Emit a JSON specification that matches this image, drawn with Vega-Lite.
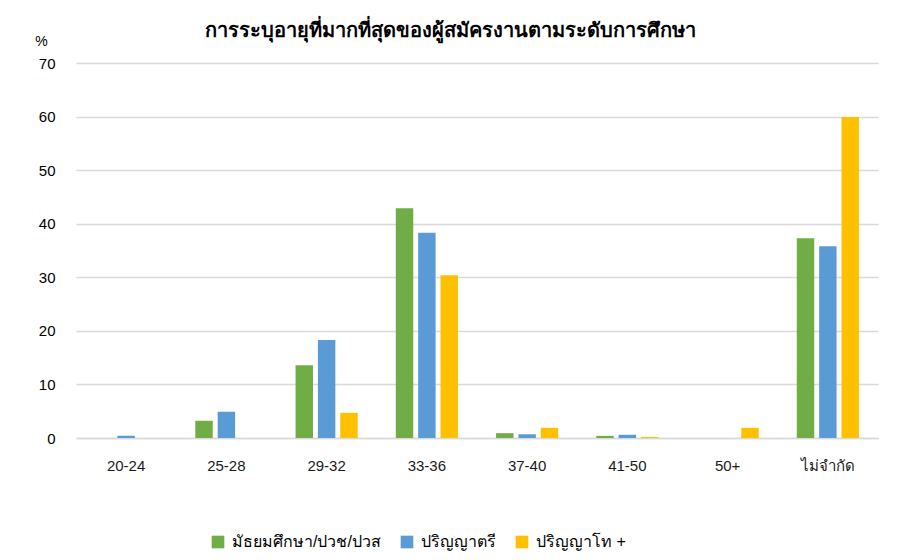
{
  "$schema": "https://vega.github.io/schema/vega-lite/v6.json",
  "autosize": {"type": "none"},
  "padding": {"left": 76, "top": 63, "right": 22, "bottom": 122},
  "width": 802,
  "height": 375,
  "background": "white",
  "title": {
    "text": "การระบุอายุที่มากที่สุดของผู้สมัครงานตามระดับการศึกษา",
    "fontSize": 20,
    "fontWeight": "bold",
    "color": "#000000",
    "anchor": "middle",
    "dx": -27,
    "offset": -7
  },
  "data": {
    "values": [
      {"age": "20-24", "edu": "มัธยมศึกษา/ปวช/ปวส", "pct": 0},
      {"age": "20-24", "edu": "ปริญญาตรี", "pct": 0.4},
      {"age": "20-24", "edu": "ปริญญาโท +", "pct": 0},
      {"age": "25-28", "edu": "มัธยมศึกษา/ปวช/ปวส", "pct": 3.2},
      {"age": "25-28", "edu": "ปริญญาตรี", "pct": 4.9},
      {"age": "25-28", "edu": "ปริญญาโท +", "pct": 0},
      {"age": "29-32", "edu": "มัธยมศึกษา/ปวช/ปวส", "pct": 13.6},
      {"age": "29-32", "edu": "ปริญญาตรี", "pct": 18.3},
      {"age": "29-32", "edu": "ปริญญาโท +", "pct": 4.7},
      {"age": "33-36", "edu": "มัธยมศึกษา/ปวช/ปวส", "pct": 42.9},
      {"age": "33-36", "edu": "ปริญญาตรี", "pct": 38.3},
      {"age": "33-36", "edu": "ปริญญาโท +", "pct": 30.4},
      {"age": "37-40", "edu": "มัธยมศึกษา/ปวช/ปวส", "pct": 0.9},
      {"age": "37-40", "edu": "ปริญญาตรี", "pct": 0.7},
      {"age": "37-40", "edu": "ปริญญาโท +", "pct": 1.9},
      {"age": "41-50", "edu": "มัธยมศึกษา/ปวช/ปวส", "pct": 0.4},
      {"age": "41-50", "edu": "ปริญญาตรี", "pct": 0.6},
      {"age": "41-50", "edu": "ปริญญาโท +", "pct": 0.2},
      {"age": "50+", "edu": "มัธยมศึกษา/ปวช/ปวส", "pct": 0},
      {"age": "50+", "edu": "ปริญญาตรี", "pct": 0},
      {"age": "50+", "edu": "ปริญญาโท +", "pct": 1.9},
      {"age": "ไม่จำกัด", "edu": "มัธยมศึกษา/ปวช/ปวส", "pct": 37.3},
      {"age": "ไม่จำกัด", "edu": "ปริญญาตรี", "pct": 35.8},
      {"age": "ไม่จำกัด", "edu": "ปริญญาโท +", "pct": 59.9}
    ]
  },
  "mark": {"type": "bar"},
  "encoding": {
    "x": {
      "field": "age",
      "type": "nominal",
      "sort": ["20-24", "25-28", "29-32", "33-36", "37-40", "41-50", "50+", "ไม่จำกัด"],
      "scale": {"paddingInner": 0.38, "paddingOuter": 0.19},
      "axis": {
        "title": null,
        "labelAngle": 0,
        "labelFontSize": 15,
        "labelColor": "#1a1a1a",
        "labelPadding": 20,
        "ticks": false,
        "domainColor": "#d9d9d9",
        "domainWidth": 1.5
      }
    },
    "xOffset": {
      "field": "edu",
      "type": "nominal",
      "sort": ["มัธยมศึกษา/ปวช/ปวส", "ปริญญาตรี", "ปริญญาโท +"],
      "scale": {"paddingInner": 0.22, "paddingOuter": 0}
    },
    "y": {
      "field": "pct",
      "type": "quantitative",
      "scale": {"domain": [0, 70], "nice": false},
      "axis": {
        "values": [0, 10, 20, 30, 40, 50, 60, 70],
        "title": "%",
        "titleAngle": 0,
        "titleX": -35,
        "titleY": -22,
        "titleAlign": "center",
        "titleBaseline": "middle",
        "titleFontSize": 14,
        "titleFontWeight": "normal",
        "titleColor": "#000000",
        "labelFontSize": 15,
        "labelColor": "#000000",
        "labelPadding": 21,
        "ticks": false,
        "domain": false,
        "gridColor": "#d9d9d9",
        "gridWidth": 1.5
      }
    },
    "color": {
      "field": "edu",
      "type": "nominal",
      "scale": {
        "domain": ["มัธยมศึกษา/ปวช/ปวส", "ปริญญาตรี", "ปริญญาโท +"],
        "range": ["#70AD47", "#5B9BD5", "#FFC000"]
      },
      "legend": {
        "title": null,
        "orient": "none",
        "direction": "horizontal",
        "legendX": 134,
        "legendY": 471,
        "symbolType": "square",
        "symbolSize": 160,
        "symbolStrokeWidth": 0,
        "labelFontSize": 16,
        "labelColor": "#000000",
        "columnPadding": 18,
        "labelOffset": 6
      }
    }
  },
  "config": {"view": {"stroke": null}}
}
